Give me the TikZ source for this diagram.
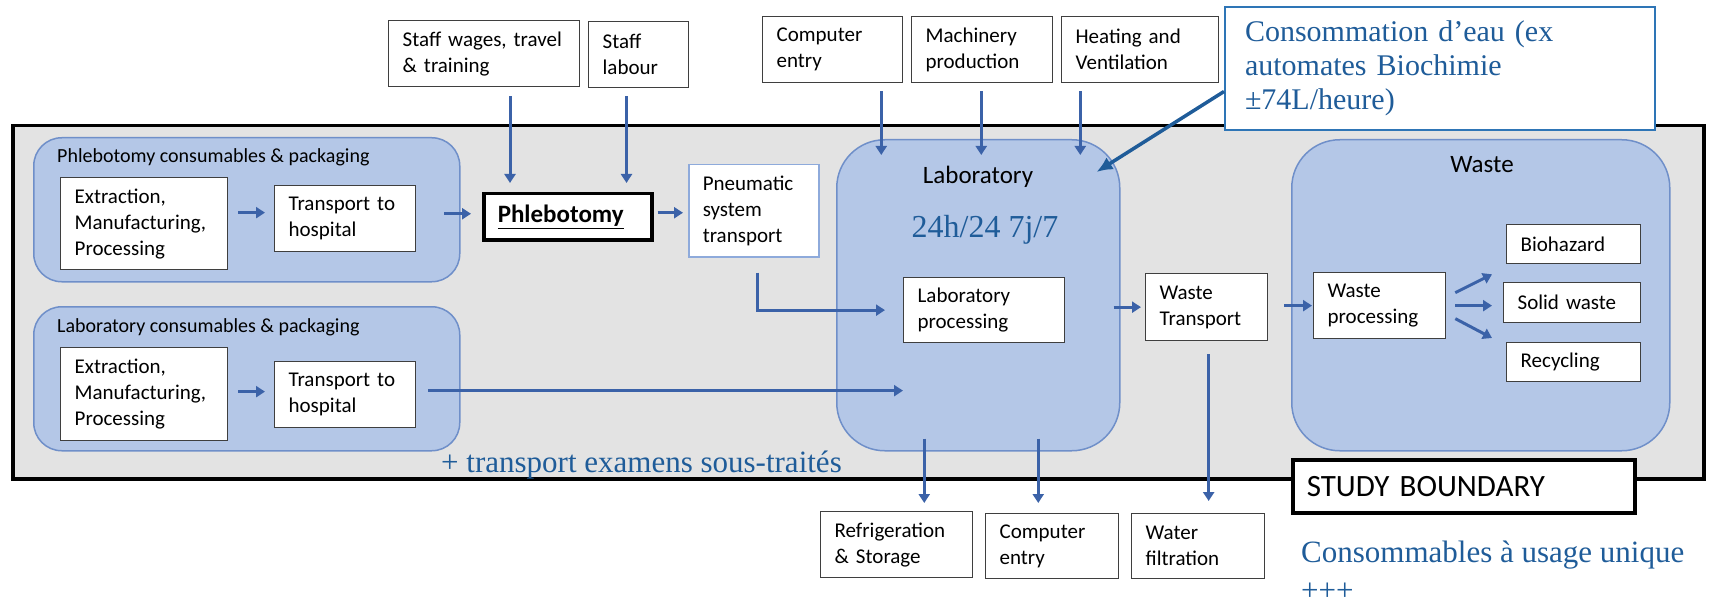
\documentclass[tikz,border=0pt]{standalone}
\usepackage{fontspec}
\setsansfont{Carlito}
\newfontfamily\notefont{Liberation Serif}
\usepackage{tikz}
\usetikzlibrary{positioning,arrows.meta,calc}
\definecolor{bndGray}{HTML}{E3E3E3}
\definecolor{grpFill}{HTML}{B4C7E7}
\definecolor{grpLine}{HTML}{6F8FC9}
\definecolor{flowBlue}{HTML}{3B62A8}
\definecolor{noteBlue}{HTML}{1F5C99}
\definecolor{noteLine}{HTML}{2E75B6}
\definecolor{pneuLine}{HTML}{8EAADB}
\definecolor{boxLine}{HTML}{3F3F3F}
\tikzset{
    lcaBox/.style={
        rectangle,
        draw=boxLine,
        line width=1.3pt,
        fill=white,
        font=\sffamily\fontsize{21}{26}\selectfont,
        align=left,
        inner xsep=14pt,
        inner ysep=0pt,
        anchor=north west
    },
    lcaGroup/.style={
        rectangle,
        draw=grpLine,
        line width=1.5pt,
        fill=grpFill,
        anchor=north west,
        inner sep=0pt
    },
    % blue remarks
    lcaNote/.style={text=noteBlue, font=\notefont\fontsize{30}{34}\selectfont, align=left, inner sep=0pt}
}

\begin{document}
\begin{tikzpicture}[
    x=1pt, y=-1pt,
    title/.style={font=\sffamily\fontsize{20}{24}\selectfont, inner sep=0pt},
    bigtitle/.style={font=\sffamily\fontsize{25}{30}\selectfont, inner sep=0pt},
    flow/.style={>={Triangle[length=9pt,width=11pt]}, ->, line width=3pt, draw=flowBlue},
    callarrow/.style={>={Latex[length=16pt,width=14pt]}, ->, line width=3.5pt, draw=noteBlue}
]
    \useasboundingbox (0,0) rectangle (1736,604);

    % study boundary
    \node[draw=black, line width=3.5pt, fill=bndGray, anchor=north west, inner sep=0pt,
          minimum width=1691pt, minimum height=353pt] (boundary) at (11,124) {};

    % consumables
    \node[lcaGroup, rounded corners=28pt, minimum width=426pt, minimum height=144pt] (phGroup) at (33,137) {};
    \node[title, anchor=west] (phTitle) at (57,157) {Phlebotomy consumables \& packaging};
    \node[lcaBox, text width=139pt, minimum height=92pt] (phExtract) at (60,177) {Extraction,\\Manufacturing,\\Processing};
    \node[lcaBox, text width=113pt, minimum height=66pt] (phShip) at (274,185) {Transport to\\hospital};

    \node[lcaGroup, rounded corners=28pt, minimum width=426pt, minimum height=144pt] (labGroup) at (33,306) {};
    \node[title, anchor=west] (labTitle) at (57,327) {Laboratory consumables \& packaging};
    \node[lcaBox, text width=139pt, minimum height=93pt] (labExtract) at (60,347) {Extraction,\\Manufacturing,\\Processing};
    \node[lcaBox, text width=113pt, minimum height=66pt] (labShip) at (274,361) {Transport to\\hospital};

    % sampling
    \node[lcaBox, draw=black, line width=3.5pt, text width=140pt, minimum height=46pt,
          font=\sffamily\bfseries\fontsize{25}{30}\selectfont] (phleb) at (482,192) {\underline{Phlebotomy}};
    \node[lcaBox, draw=pneuLine, line width=1.5pt, text width=102pt, minimum height=92pt] (pneu) at (688,164) {Pneumatic\\system\\transport};
    \node[lcaBox, text width=163pt, minimum height=66pt] (wages) at (388,20) {Staff wages, travel\\\& training};
    \node[lcaBox, text width=72pt, minimum height=66pt] (labour) at (588,21) {Staff\\labour};

    % laboratory
    \node[lcaGroup, rounded corners=48pt, minimum width=283pt, minimum height=311pt] (lab) at (836,139) {};
    \node[bigtitle] (labName) at (978,177) {Laboratory};
    \node[lcaNote, anchor=base, font=\notefont\fontsize{32}{36}\selectfont] (labHours) at (985,237) {24h/24 7j/7};
    \node[lcaBox, text width=133pt, minimum height=65pt] (labProc) at (903,277) {Laboratory\\processing};
    \node[lcaBox, text width=112pt, minimum height=66pt] (topComp) at (762,16) {Computer\\entry};
    \node[lcaBox, text width=113pt, minimum height=66pt] (machine) at (911,16) {Machinery\\production};
    \node[lcaBox, text width=129pt, minimum height=66pt] (heating) at (1061,16) {Heating and\\Ventilation};
    \node[lcaBox, text width=124pt, minimum height=66pt] (refrig) at (820,511) {Refrigeration\\\& Storage};
    \node[lcaBox, text width=105pt, minimum height=65pt] (botComp) at (985,513) {Computer\\entry};

    % waste
    \node[lcaGroup, rounded corners=48pt, minimum width=378pt, minimum height=311pt] (waste) at (1291,139) {};
    \node[bigtitle] (wasteName) at (1482,165) {Waste};
    \node[lcaBox, text width=94pt, minimum height=67pt] (wt) at (1145,273) {Waste\\Transport};
    \node[lcaBox, text width=104pt, minimum height=66pt] (wp) at (1313,272) {Waste\\processing};
    \node[lcaBox, text width=106pt, minimum height=39pt] (bio) at (1506,224) {Biohazard};
    \node[lcaBox, text width=109pt, minimum height=40pt] (solid) at (1503,282) {Solid waste};
    \node[lcaBox, text width=106pt, minimum height=39pt] (recyc) at (1506,342) {Recycling};
    \node[lcaBox, text width=105pt, minimum height=65pt] (water) at (1131,513) {Water\\filtration};

    % flows
    \draw[flow, shorten <=10pt, shorten >=9pt] ([yshift=6pt]phShip.west -| phExtract.east) -- ([yshift=6pt]phShip.west);
    \draw[flow, shorten <=28pt, shorten >=11pt] ([yshift=3pt]phleb.west -| phShip.east) -- ([yshift=3pt]phleb.west);
    \draw[flow, shorten <=4pt, shorten >=5pt] ([yshift=-2pt]pneu.west -| phleb.east) -- ([yshift=-2pt]pneu.west);
    \draw[flow, shorten <=10pt, shorten >=9pt] ([yshift=3pt]labShip.west -| labExtract.east) -- ([yshift=3pt]labShip.west);
    \draw[flow, shorten <=12pt] ([yshift=4pt]labShip.east) -- ([yshift=4pt]labShip.east -| labProc.west);

    \coordinate (phIn1) at ([xshift=28pt]phleb.north west);
    \coordinate (phIn2) at ([xshift=-27pt]phleb.north east);
    \draw[flow, shorten <=9pt, shorten >=9pt] (wages.south -| phIn1) -- (phIn1);
    \draw[flow, shorten <=8pt, shorten >=9pt] (labour.south -| phIn2) -- (phIn2);

    \coordinate (labIn1) at ([xshift=-97pt,yshift=-16pt]lab.north);
    \coordinate (labIn2) at ([xshift=3pt,yshift=-16pt]lab.north);
    \coordinate (labIn3) at ([xshift=102pt,yshift=-16pt]lab.north);
    \draw[flow, shorten <=8pt] (topComp.south -| labIn1) -- (labIn1);
    \draw[flow, shorten <=8pt] (machine.south -| labIn2) -- (labIn2);
    \draw[flow, shorten <=8pt] (heating.south -| labIn3) -- (labIn3);

    \draw[flow, shorten <=15pt] ([xshift=4pt]pneu.south) |- ([xshift=-18pt]labProc.west);

    \coordinate (labOut1) at ([xshift=-54pt,yshift=13pt]lab.south);
    \coordinate (labOut2) at ([xshift=60pt,yshift=13pt]lab.south);
    \draw[flow, shorten >=8pt] (labOut1) -- (labOut1 |- refrig.north);
    \draw[flow, shorten >=10pt] (labOut2) -- (labOut2 |- botComp.north);

    \draw[flow, shorten <=-7pt, shorten >=4pt] (lab.east |- wt.west) -- (wt.west);
    \draw[flow, shorten <=16pt, shorten >=1pt] (wt.east |- wp.west) -- (wp.west);
    \draw[flow] ([xshift=9pt,yshift=13pt]wp.east) -- ([xshift=-14pt,yshift=-10pt]bio.south west);
    \draw[flow, shorten <=9pt, shorten >=11pt] (wp.east) -- (wp.east -| solid.west);
    \draw[flow] ([xshift=9pt,yshift=-13pt]wp.east) -- ([xshift=-14pt,yshift=4pt]recyc.north west);
    \draw[flow, shorten <=13pt, shorten >=12pt] ([xshift=2pt]wt.south) -- ([xshift=2pt]wt.south |- water.north);

    % remarks
    \node[lcaNote, draw=noteLine, line width=2pt, fill=white, anchor=north west, inner xsep=20pt,
          text width=390pt, minimum height=123pt] (water note) at (1224,6)
          {Consommation d’eau (ex\\automates Biochimie\\±74L/heure)};
    \draw[callarrow] ([yshift=-23pt]water note.west) -- ([xshift=-24pt,yshift=-33pt]lab.north east);

    \node[lcaBox, draw=black, line width=3.5pt, text width=314pt, minimum height=53pt,
          font=\sffamily\fontsize{31}{36}\selectfont] (studyLabel) at (1291,458) {STUDY BOUNDARY};
    \node[lcaNote, anchor=base west, font=\notefont\fontsize{31}{36}\selectfont] (subcontract) at (441,472) {+ transport examens sous-traités};
    \node[lcaNote, anchor=base west, font=\notefont\fontsize{31}{38}\selectfont] (singleUse) at (1301,600) {Consommables à usage unique\\+++};
\end{tikzpicture}
\end{document}
